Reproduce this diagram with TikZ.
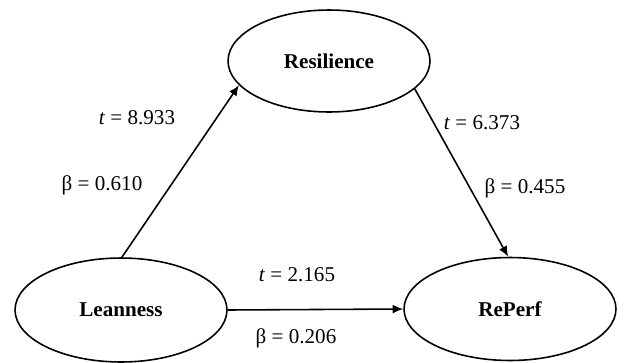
\documentclass[tikz,border=0pt]{standalone}
\usepackage{fontspec}
\setmainfont{Liberation Serif}
\usetikzlibrary{arrows.meta,shapes.geometric}
\begin{document}
\begin{tikzpicture}[x=0.02cm,y=-0.02cm,
  construct/.style={draw=black,line width=0.9pt,ellipse,inner sep=0pt,
    font=\fontsize{12}{14}\selectfont\bfseries},
  causal/.style={draw=black,line width=0.9pt,-{Latex[length=6pt,width=5pt]}},
  coef/.style={inner sep=0pt,font=\fontsize{12}{14}\selectfont}]
  \useasboundingbox[fill=white] (0,0) rectangle (625,362);

  % latent constructs
  \node[construct,minimum width=4.04cm,minimum height=2.04cm] (res) at (329,61) {Resilience};
  \node[construct,minimum width=4.24cm,minimum height=2.08cm] (lean) at (121,310) {Leanness};
  \node[construct,minimum width=4.24cm,minimum height=2.06cm] (rep) at (510,309) {RePerf};

  % structural paths
  \draw[causal] (lean.89) -- (res.195.7);
  \draw[causal] (res.-18.2) -- (rep.92);
  \draw[causal] (lean.east) -- (rep.west);

  % path coefficients
  \node[coef] (t1) at (137,118) {\textit{t} = 8.933};
  \node[coef] (b1) at (102,185) {β = 0.610};
  \node[coef] (t2) at (482,123) {\textit{t} = 6.373};
  \node[coef] (b2) at (525,188) {β = 0.455};
  \node[coef] (t3) at (297,275) {\textit{t} = 2.165};
  \node[coef] (b3) at (296,338) {β = 0.206};
\end{tikzpicture}
\end{document}
